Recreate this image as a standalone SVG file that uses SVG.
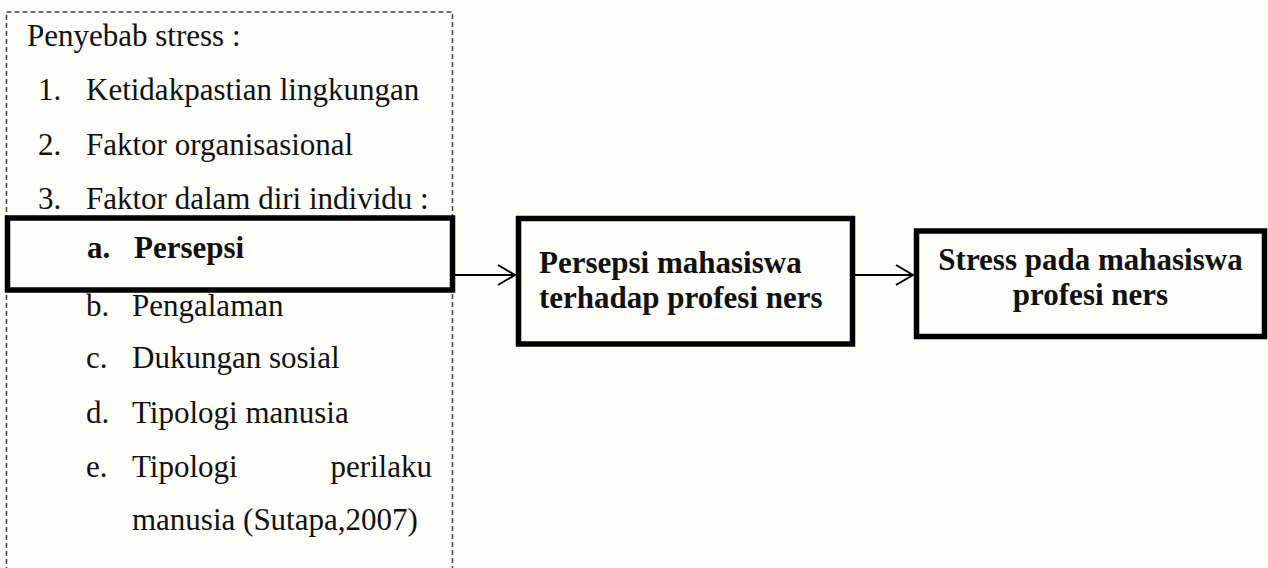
<svg xmlns="http://www.w3.org/2000/svg" width="1268" height="568" viewBox="0 0 1268 568">
  <style>
    .t { font-family: "Liberation Serif", "Times New Roman", serif; font-size: 31px; fill: #111; }
    .b { font-weight: bold; }
    .box { fill: none; stroke: #000; stroke-width: 5.5; }
    .dash { fill: none; stroke: #444; stroke-width: 1.5; stroke-dasharray: 5 3; }
    .conn { fill: none; stroke: #000; stroke-width: 2; }
  </style>
  <defs>
    <marker id="arr" viewBox="0 0 20 22" refX="18" refY="11" markerWidth="20" markerHeight="22" markerUnits="userSpaceOnUse" orient="auto">
      <path d="M1,1 L18,11 L1,21" fill="none" stroke="#000" stroke-width="2"/>
    </marker>
  </defs>
  <rect width="1268" height="568" fill="#fdfdf9"/>

  <g id="causes">
    <path class="dash" d="M6.5,580 V12 H452.5 V580"/>
    <text class="t" x="27" y="46">Penyebab stress :</text>
    <text class="t" x="38" y="100">1.</text><text class="t" x="86" y="100">Ketidakpastian lingkungan</text>
    <text class="t" x="38" y="155">2.</text><text class="t" x="86" y="155">Faktor organisasional</text>
    <text class="t" x="38" y="209">3.</text><text class="t" x="86" y="209">Faktor dalam diri individu :</text>
    <text class="t" x="86" y="316">b.</text><text class="t" x="132" y="316">Pengalaman</text>
    <text class="t" x="86" y="368">c.</text><text class="t" x="132" y="368">Dukungan sosial</text>
    <text class="t" x="86" y="423">d.</text><text class="t" x="132" y="423">Tipologi manusia</text>
    <text class="t" x="86" y="477">e.</text><text class="t" x="132" y="477">Tipologi</text><text class="t" x="432" y="477" text-anchor="end">perilaku</text>
    <text class="t" x="132" y="530">manusia (Sutapa,2007)</text>
  </g>

  <g id="persepsi">
    <rect class="box" x="7.5" y="218" width="445" height="72"/>
    <text class="t b" x="87" y="258">a.</text><text class="t b" x="134" y="258">Persepsi</text>
  </g>

  <g id="persepsi-mahasiswa">
    <rect class="box" x="518.5" y="218.5" width="334" height="125.5"/>
    <text class="t b" x="539" y="273">Persepsi mahasiswa</text>
    <text class="t b" x="539" y="308">terhadap profesi ners</text>
  </g>

  <g id="stress">
    <rect class="box" x="916.5" y="231" width="348" height="105.5"/>
    <text class="t b" x="1090.5" y="270" text-anchor="middle">Stress pada mahasiswa</text>
    <text class="t b" x="1090.5" y="305" text-anchor="middle">profesi ners</text>
  </g>

  <g id="connectors">
    <line class="conn" x1="455" y1="275" x2="515" y2="275" marker-end="url(#arr)"/>
    <line class="conn" x1="855" y1="275" x2="913" y2="275" marker-end="url(#arr)"/>
  </g>
</svg>
